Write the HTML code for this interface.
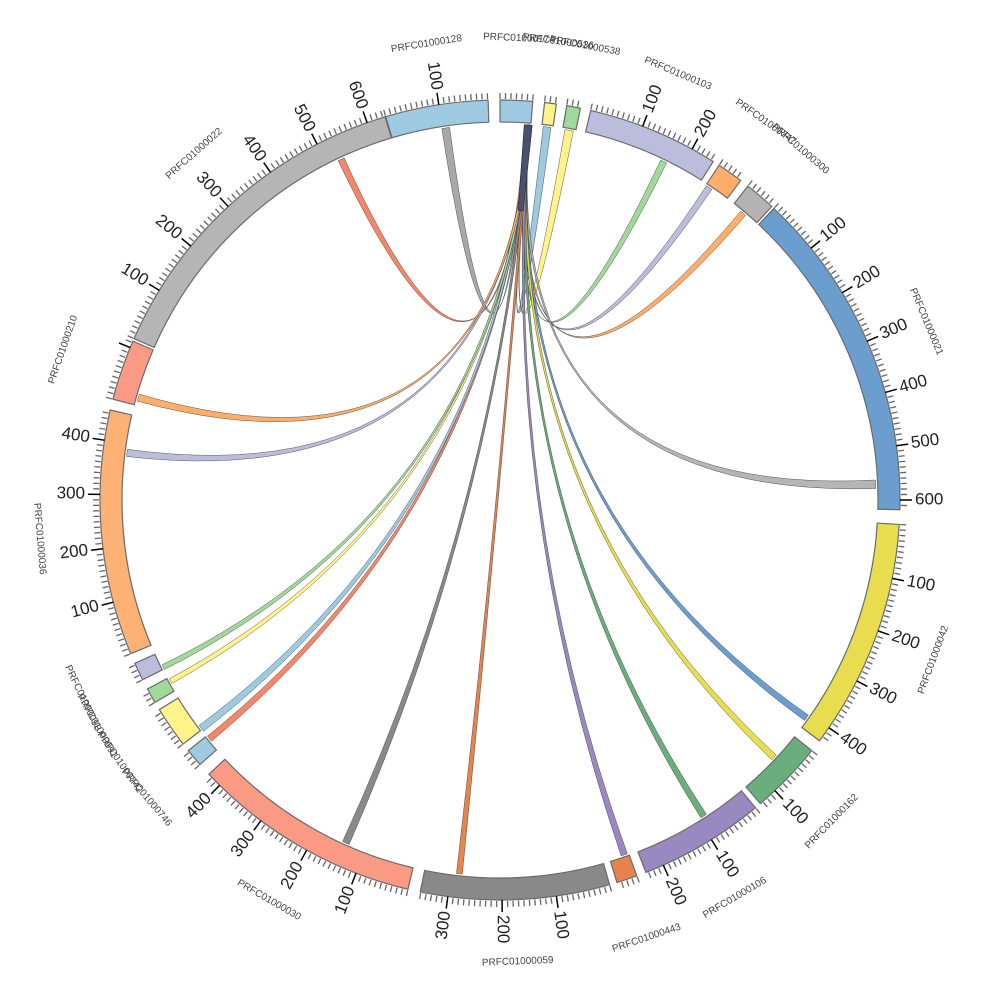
<!DOCTYPE html>
<html><head><meta charset="utf-8"><style>
html,body{margin:0;padding:0;background:#fff;width:1000px;height:1000px;overflow:hidden}
</style></head><body>
<svg id="s" width="1000" height="1000" xmlns="http://www.w3.org/2000/svg" font-family="Liberation Sans, sans-serif"></svg>
<script>
const S=document.getElementById('s');
const CX=500,CY=500,R0=378,R1=400,RC=376,K=0.078;
function P(a,r){const t=a*Math.PI/180;return [CX+r*Math.sin(t),CY-r*Math.cos(t)];}
function f(p){return p[0].toFixed(2)+','+p[1].toFixed(2);}
let out='';
const segs=[
['PRFC01000128',-16.6,-1.7,'#9ecae1',true],
['PRFC01000174',0,4.7,'#9ecae1',false],
['PRFC01000536',6.4,8.1,'#fff38a',false],
['PRFC01000538',9.6,11.6,'#a1d99b',false],
['PRFC01000103',13.1,32.2,'#bcbddc',true],
['PRFC01000747',33.2,37.0,'#fdae6b',false],
['PRFC01000300',38.3,42.8,'#b3b3b3',false],
['PRFC01000021',43.2,91.4,'#6b9ecf',true],
['PRFC01000042',93.5,127.0,'#e8dd4f',true],
['PRFC01000162',128.8,139.4,'#6aae7d',true],
['PRFC01000106',140.3,158.6,'#9a89c1',true],
['PRFC01000443',160.0,163.0,'#e6834f',false],
['PRFC01000059',164.1,191.5,'#898989',true],
['PRFC01000030',193.3,226.7,'#fa9a85',true],
['PRFC01000746',228.6,231.2,'#9ecae1',false],
['PRFC01000742',232.4,238.4,'#fff38a',false],
['PRFC01000091',239.6,241.8,'#a1d99b',false],
['PRFC01000098',243.3,245.9,'#bcbddc',false],
['PRFC01000036',247.4,283,'#fdb174',true],
['PRFC01000210',284.6,293.4,'#fb9a84',false],
['PRFC01000022',293.8,343.3,'#b5b5b5',true]
];
const ch=[
[-8.3,1.2,'#a8a8a8'],[7.2,1.2,'#9ecae1'],[10.6,1.3,'#fff38a'],[-25,1.0,'#f4866a'],
[25.8,1.0,'#a1d99b'],[33.8,1.0,'#bcbddc'],[40.3,1.0,'#fdae6b'],[87.6,1.3,'#b5b5b5'],
[125.4,1.0,'#6b9ecf'],[133.2,1.0,'#e8dd4f'],[147.2,1.0,'#6aae7d'],[160.7,1.0,'#9a89c1'],
[186.2,0.9,'#e6834f'],[204.2,1.1,'#898989'],[230.6,1.0,'#f4866a'],[232.6,1.1,'#9ecae1'],
[241.2,0.8,'#fff38a'],[243.6,0.8,'#a1d99b'],[277.2,1.1,'#bcbddc'],[285.8,1.1,'#fdae6b']
];
let sa=3.7;
ch.forEach((c,i)=>{
 const s0=sa,s1=sa+0.45;sa+=0.04;
 let t0=c[0]-c[1]/2,t1=c[0]+c[1]/2;
 const d='M'+f(P(s0,RC))+'A'+RC+','+RC+' 0 0 1 '+f(P(s1,RC))+'Q'+CX+','+CY+' '+f(P(t0,RC))+'A'+RC+','+RC+' 0 0 1 '+f(P(t1,RC))+'Q'+CX+','+CY+' '+f(P(s0,RC))+'Z';
 out+=`<path d="${d}" fill="${c[2]}" stroke="#333" stroke-width="0.5" stroke-opacity="0.8"/>`;
});
out+=`<path d="M${f(P(3.7,RC))}A${RC},${RC} 0 0 1 ${f(P(4.9,RC))}L${f(P(4.6,290))}L${f(P(3.6,290))}Z" fill="#4a5070" stroke="#222" stroke-width="0.5"/>`;
segs.forEach(s=>{
 const [n,a0,a1,col,lab]=s;
 const large=(a1-a0)>180?1:0;
 const d='M'+f(P(a0,R1))+'A'+R1+','+R1+' 0 '+large+' 1 '+f(P(a1,R1))+'L'+f(P(a1,R0))+'A'+R0+','+R0+' 0 '+large+' 0 '+f(P(a0,R0))+'Z';
 out+=`<path d="${d}" fill="${col}" stroke="#6b6b6b" stroke-width="1.2"/>`;
 for(let u=0;a0+u*K<=a1+0.01;u+=10){
  const a=a0+u*K,maj=(u%100==0&&u>0);
  if(maj){
   const q1=P(a,R1),q2=P(a,412);
   out+=`<line x1="${q1[0].toFixed(2)}" y1="${q1[1].toFixed(2)}" x2="${q2[0].toFixed(2)}" y2="${q2[1].toFixed(2)}" stroke="#000" stroke-width="1.5"/>`;
   if(lab){
    let an=((a%360)+360)%360,t=an*Math.PI/180,rot,anc,p;
    if(an>0&&an<180){rot=Math.atan2(-Math.cos(t),Math.sin(t))*180/Math.PI;anc='start';p=P(a,415);}
    else{rot=Math.atan2(Math.cos(t),-Math.sin(t))*180/Math.PI;anc='end';p=P(a,415);}
    out+=`<text x="${p[0].toFixed(1)}" y="${p[1].toFixed(1)}" font-size="17" fill="#222" text-anchor="${anc}" dominant-baseline="middle" transform="rotate(${rot.toFixed(1)} ${p[0].toFixed(1)} ${p[1].toFixed(1)})">${u}</text>`;
   }
  } else {
   const p1=P(a,R1+1),p2=P(a,407);
   out+=`<line x1="${p1[0].toFixed(2)}" y1="${p1[1].toFixed(2)}" x2="${p2[0].toFixed(2)}" y2="${p2[1].toFixed(2)}" stroke="#666" stroke-width="1.3"/>`;
  }
 }
 let m=(a0+a1)/2,an=((m%360)+360)%360,rot=(an>90&&an<270)?an-180:an;
 if(rot>180)rot-=360;
 const p=P(m,462);
 out+=`<text x="${p[0].toFixed(1)}" y="${p[1].toFixed(1)}" font-size="10" fill="#444" text-anchor="middle" dominant-baseline="middle" transform="rotate(${rot.toFixed(1)} ${p[0].toFixed(1)} ${p[1].toFixed(1)})">${n}</text>`;
});
S.innerHTML=out;
</script>
</body></html>
